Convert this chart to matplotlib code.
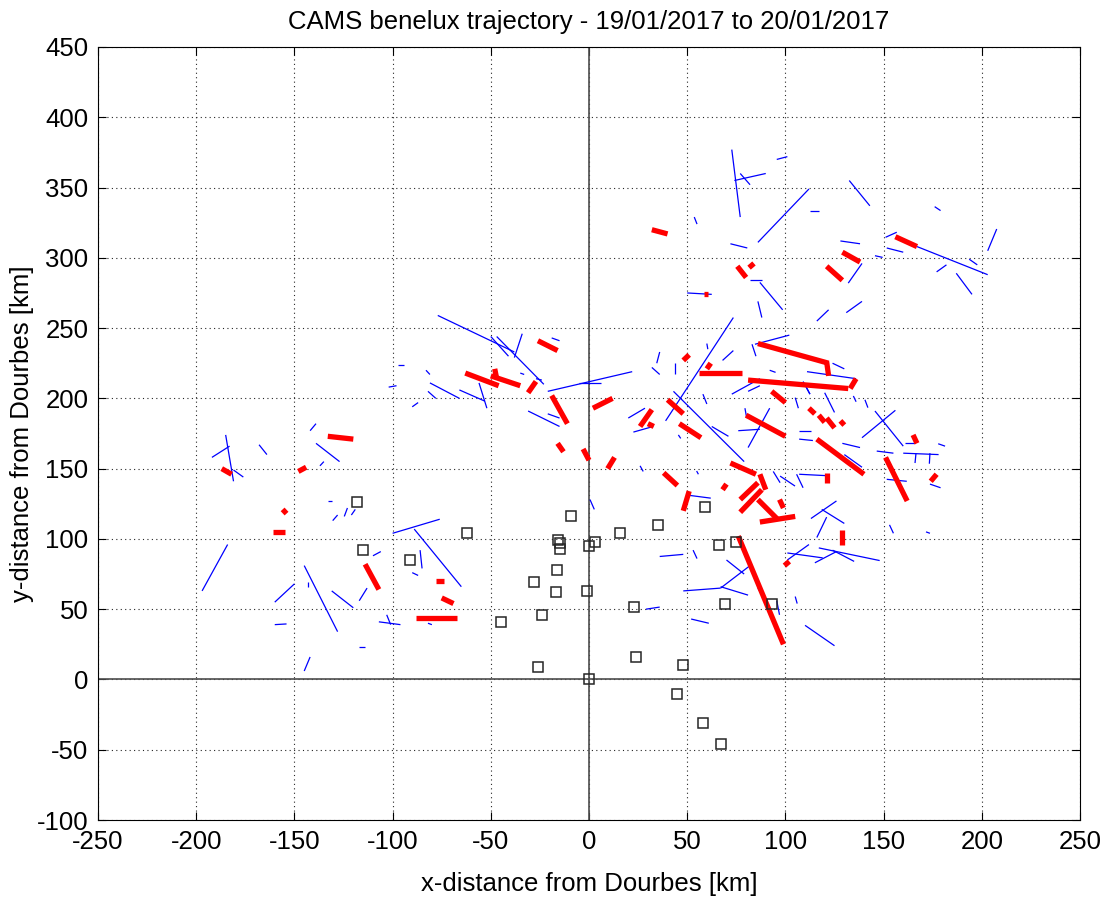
import matplotlib
matplotlib.use("Agg")
import matplotlib.pyplot as plt
import numpy as np

plt.rcParams['font.family'] = ['Liberation Sans', 'DejaVu Sans']
plt.rcParams['axes.unicode_minus'] = False

# Meteor trajectory segments (km from Dourbes): start / end points
red_x0 = [-187, -156, -161, -148, -133, -114, -78, -75, -88, -26, -63, -50, -48, -31, -19, 2, -16, -3, 9.5, 26, 30, 40, 46, 48, 56, 60, 38, 48, 68, 72, 32, 58.5, 75.5, 81.5, 121, 129, 156, 86, 121, 81, 133, 93, 80, 112, 117, 121, 128, 116, 121, 151, 165, 174, 87, 97, 77, 77, 86, 87, 129, 76, 99.5]
red_y0 = [150, 121, 105, 148, 173, 82, 70, 58, 44, 241, 218, 216, 221, 204, 202, 193, 168, 164, 150, 180, 182, 199, 182, 227, 218, 221, 147, 120, 135, 154, 320, 274, 294, 293, 294, 304, 315, 239, 226, 213, 207, 205, 188, 193, 188, 186, 184, 171, 147, 158, 174, 141, 146, 128, 128, 119, 128, 112, 106, 102, 81]
red_x1 = [-182, -154, -155, -144, -120, -107, -74, -69, -67, -16, -46, -35, -47, -27, -11, 12, -13, 0, 13, 32, 33, 48, 57, 51, 78, 62, 45, 51, 70, 85, 40, 60.5, 80, 84, 129, 138, 167, 122, 122, 132, 136, 100, 100, 115, 120, 125, 130, 140, 121, 162, 167, 177, 90, 99, 86, 88, 96, 105, 129, 99, 102]
red_y1 = [146, 118, 105, 151, 171, 64, 70, 54, 44, 234, 209, 209, 214, 212, 182, 200, 162, 156, 158, 192, 180, 189, 172, 231, 218, 225, 138, 134, 139, 146, 317, 274, 286, 296, 284, 297, 308, 225, 216, 207, 214, 197, 173, 189, 183, 179, 181, 146, 140, 127, 168, 146, 135, 122, 140, 135, 114, 116, 96, 25, 84]

blue_x0 = [-77, -47, -50, -34, -19, -27, -35, -21, -5, -31, -21, -81, -66, -56, -97, -102, -83, -82, -90, -142, -139, -137, -185, -192, -181, -168, -197, -160, -160, -145, -143, -145, -131, -117, -107, -103, -117, -110, -133, -130.5, -124.6, -121, -100, -89, -86, -90, -82,
           34.5, 32, 44, 39, 43, 20, 22.6, 45.5, 26, 51, 58, 60, 68, 62.5, 0.5, 36, 53, 48, 67, 70, 67, 29, 52, 86, 95.6, 105, 110, 153, 171.6, 101, 101, 117, 115, 124, 113, 118.5, 116,
           116, 84.5, 83, 124, 111, 92, 72.7, 81, 105, 109, 120, 79.4, 81, 76, 107, 110.8, 134.6, 140.5, 107, 129, 130, 139, 145.6, 146.5, 160, 161, 166.5, 173.6, 177.8, 173.6, 151.6, 107, 105.7, 93.8, 97.3,
           72.7, 74, 77, 95.6, 86, 112.5, 72, 132.5, 128, 132, 131, 82, 87, 86, 176, 151, 151.6, 145.6, 167, 177, 187, 193.6, 203, 53.6, 50, 54.8]
blue_y0 = [259, 244, 244, 246, 243, 214, 218, 205, 211, 191, 189, 211, 206, 211, 224, 208, 220, 205, 194, 177, 168, 152, 174, 158, 149, 167, 63, 55, 39, 81, 69, 6, 63, 56, 41, 46, 23, 88, 127, 113, 116, 117, 104, 107, 92, 76, 40,
           225, 222, 225, 184, 205, 186, 176, 174, 152, 131, 203, 239, 227, 180, 128, 87.5, 92, 63, 65, 85, 66, 50, 43, 65, 56, 59, 38.5, 110, 105, 85, 90, 93.6, 83, 92, 114.5, 121, 101,
           255, 238.5, 238.5, 225, 219, 220, 203, 205, 200.5, 212, 204, 193, 165, 177, 177, 207.6, 201.7, 199, 171, 168, 160, 172, 191, 162.5, 161, 168, 161, 161, 167.7, 139, 142.4, 146, 146, 148, 144.7,
           377, 355, 360, 370, 311, 333, 310, 355, 312, 282, 261, 284, 282.5, 269, 336.4, 314.6, 307, 301.5, 308, 290, 289, 299, 305, 329, 275, 148.3]
blue_x1 = [-38, -23, -41, -38, -15, -24, -33, 22, 6, -15, -15, -66, -53, -52, -94, -98, -81, -78, -87, -139, -127, -135, -181, -183, -176, -164, -184, -150, -154, -128, -143, -142, -120, -113, -96, -101, -114, -106, -131, -128, -123, -119, -76, -65, -85, -87, -80,
           36, 36, 44, 73.5, 79, 28.5, 32.7, 46.7, 27.6, 62, 60, 60.5, 73.5, 71, 2.7, 48, 55, 67, 82, 79, 81, 36, 61, 89, 97, 106, 125, 155, 173.6, 112, 119, 148, 126, 135, 126, 130, 121,
           122, 102, 85, 130, 136, 95, 87, 87, 106.6, 112.5, 125, 80.3, 92, 87, 113, 112.5, 136, 142, 114, 138, 139, 156, 160, 155, 178, 166, 166, 173.3, 181.3, 179, 161.8, 121, 109, 97.3, 104.9,
           77, 90, 82, 101, 112, 117, 80.6, 143, 138, 139, 139, 88, 98.6, 88, 179, 156.7, 160, 149.5, 203, 182, 195, 197.7, 207.6, 55, 62.5, 55.7]
blue_y1 = [233, 210, 230, 229, 241, 213, 217, 219, 211, 180, 186, 200, 198, 193, 224, 209, 217, 200, 197, 182, 155, 155, 141, 166, 144, 160, 96, 68, 39.5, 34, 66, 16, 51, 65, 39, 39, 23, 91, 127, 117, 122, 121, 114, 66, 79, 74, 39,
           233, 217, 217, 257.5, 155, 193, 180, 171.5, 148, 129, 196, 235, 234, 173, 121, 89, 86, 65, 81, 75, 60, 51.5, 40, 58, 46, 54, 24, 104, 104, 96, 86.5, 84.6, 91, 84, 127, 111, 115.5,
           263, 245, 230, 221, 214, 218.5, 214, 209, 193, 203, 190, 186, 193, 178, 177, 203, 197.6, 193.4, 170, 165, 151, 191.5, 166, 161, 160, 168, 154, 153.5, 166, 136.4, 141, 145, 136.4, 140, 137.6,
           329, 360, 352, 372, 349, 333, 307, 337, 310, 296, 269, 284, 263, 257.5, 333.6, 318.2, 304, 300.3, 288, 295, 274, 295, 320.5, 324, 274, 146]

# Camera stations
station_x = [-118, -115, -91, -62, -45, -28, -24, -26, -9, -16, -15, -15, 3, 0, 16, 35, 59, 66, 75, -16.5, -17, -1, 23, 69, 24, 48, 0, 45, 58, 67, 93]
station_y = [126, 92, 85, 104, 41, 69, 46, 9, 116, 99, 97, 93, 98, 95, 104, 110, 123, 96, 98, 78, 62, 63, 51.5, 54, 16, 10, 0, -10, -31, -46, 54]

title = "CAMS benelux trajectory - 19/01/2017 to 20/01/2017"
xlabel = "x-distance from Dourbes [km]"
ylabel = "y-distance from Dourbes [km]"
xticks = np.arange(-250, 251, 50)
yticks = np.arange(-100, 451, 50)

fig = plt.figure(figsize=(11.06, 8.98), dpi=100)
ax = fig.add_axes([98/1106, 1 - 820/898, (1080-98)/1106, (820-47)/898])
ax.set_xlim(-250, 250)
ax.set_ylim(-100, 450)
ax.set_xticks(xticks)
ax.set_yticks(yticks)

ax.grid(True, color='0.15', linestyle=(0, (1, 3)), linewidth=0.8)
ax.set_axisbelow(True)
ax.axhline(0, color='0.3', lw=1.2, zorder=1.5)
ax.axvline(0, color='0.3', lw=1.2, zorder=1.5)

for x0, y0, x1, y1 in zip(blue_x0, blue_y0, blue_x1, blue_y1):
    ax.plot([x0, x1], [y0, y1], color='#0000ff', lw=0.9, solid_capstyle='butt', zorder=2)
for x0, y0, x1, y1 in zip(red_x0, red_y0, red_x1, red_y1):
    ax.plot([x0, x1], [y0, y1], color='#ff0000', lw=3.8, solid_capstyle='butt', zorder=3)

ax.plot(station_x, station_y, linestyle='none', marker='s', markersize=7.6,
        markerfacecolor='none', markeredgecolor='0.15', markeredgewidth=1.1, zorder=4)

ax.tick_params(direction='in', length=6, width=0.8, top=True, right=True, labelsize=18.5, pad=7)
for s in ax.spines.values():
    s.set_linewidth(0.8)
ax.set_title(title, fontsize=18.5, pad=13)
ax.set_xlabel(xlabel, fontsize=18.5, labelpad=13)
ax.set_ylabel(ylabel, fontsize=18.5, labelpad=2)

fig.savefig("out.png", dpi=100)
